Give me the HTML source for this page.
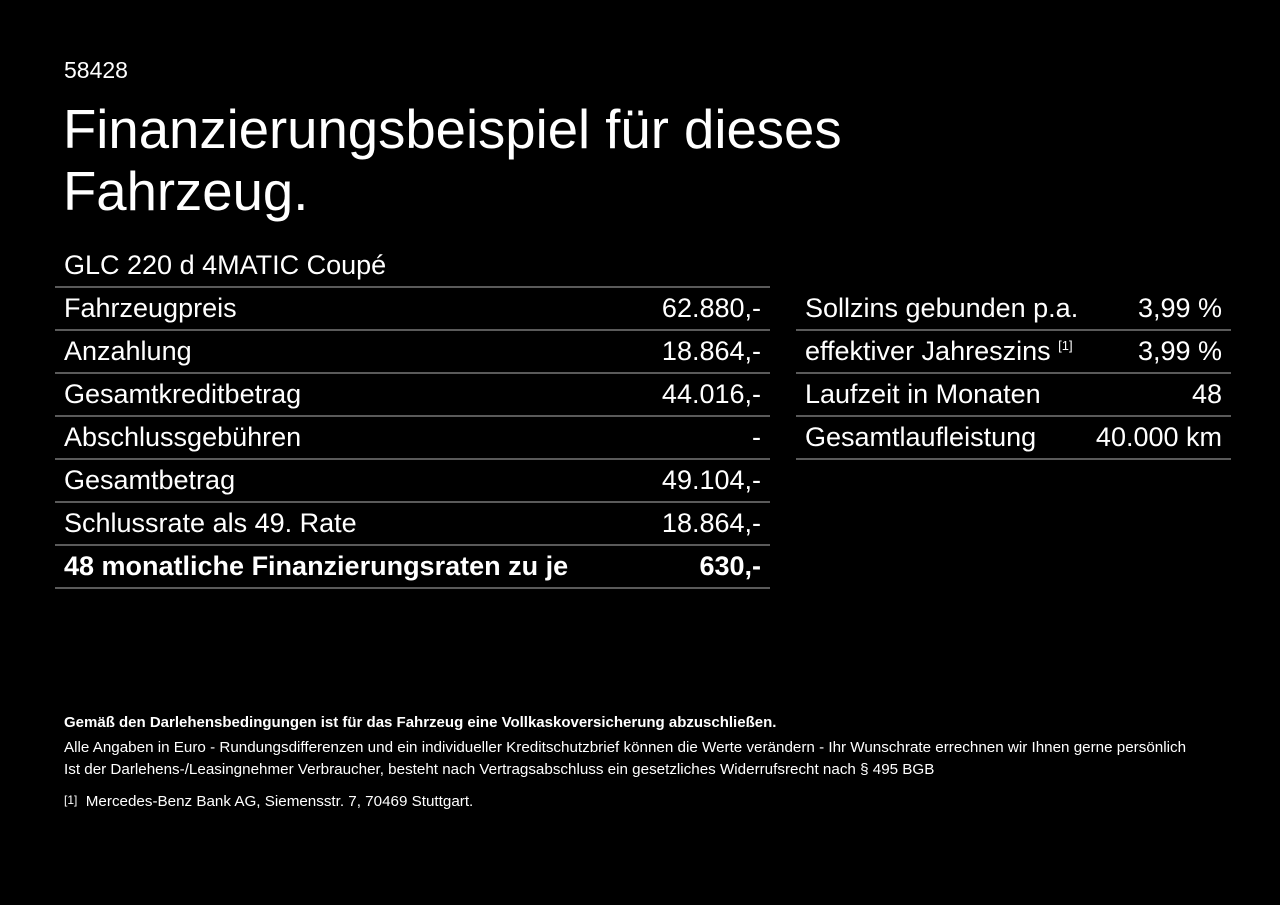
<!DOCTYPE html>
<html><head><meta charset="utf-8"><style>
body{margin:0;width:1280px;height:905px;background:#000;color:#fff;font-family:"Liberation Sans",Arial,sans-serif;position:relative;overflow:hidden}
.a{position:absolute}
.r{height:41px;border-bottom:2px solid #5a5a5a;display:flex;justify-content:space-between;align-items:center;font-size:27px;padding:0 9px;box-sizing:content-box}
.b{font-weight:bold}
sup{font-size:13px;vertical-align:10px}
.s{font-size:15.2px;line-height:22px}
</style></head><body>
<div class="a" style="left:64px;top:57px;font-size:23px">58428</div>
<div class="a" style="left:63px;top:99px;font-size:54.5px;line-height:62px">Finanzierungsbeispiel für dieses<br>Fahrzeug.</div>
<div class="a" style="left:64px;top:250px;font-size:27px">GLC 220 d 4MATIC Coupé</div>
<div class="a" style="left:55px;top:286px;width:715px;border-top:2px solid #5a5a5a">
<div class="r"><span>Fahrzeugpreis</span><span>62.880,-</span></div>
<div class="r"><span>Anzahlung</span><span>18.864,-</span></div>
<div class="r"><span>Gesamtkreditbetrag</span><span>44.016,-</span></div>
<div class="r"><span>Abschlussgebühren</span><span>-</span></div>
<div class="r"><span>Gesamtbetrag</span><span>49.104,-</span></div>
<div class="r"><span>Schlussrate als 49. Rate</span><span>18.864,-</span></div>
<div class="r b"><span>48 monatliche Finanzierungsraten zu je</span><span>630,-</span></div>
</div>
<div class="a" style="left:796px;top:288px;width:435px">
<div class="r"><span>Sollzins gebunden p.a.</span><span>3,99 %</span></div>
<div class="r"><span>effektiver Jahreszins <sup>[1]</sup></span><span>3,99 %</span></div>
<div class="r"><span>Laufzeit in Monaten</span><span>48</span></div>
<div class="r"><span>Gesamtlaufleistung</span><span>40.000 km</span></div>
</div>
<div class="a s b" style="left:64px;top:712px;font-size:15px">Gemäß den Darlehensbedingungen ist für das Fahrzeug eine Vollkaskoversicherung abzuschließen.</div>
<div class="a s" style="left:64px;top:737px">Alle Angaben in Euro - Rundungsdifferenzen und ein individueller Kreditschutzbrief können die Werte verändern - Ihr Wunschrate errechnen wir Ihnen gerne persönlich<br>Ist der Darlehens-/Leasingnehmer Verbraucher, besteht nach Vertragsabschluss ein gesetzliches Widerrufsrecht nach § 495 BGB</div>
<div class="a s" style="left:64px;top:789px"><span style="font-size:12px;vertical-align:2px">[1]</span>&nbsp; Mercedes-Benz Bank AG, Siemensstr. 7, 70469 Stuttgart.</div>
</body></html>
